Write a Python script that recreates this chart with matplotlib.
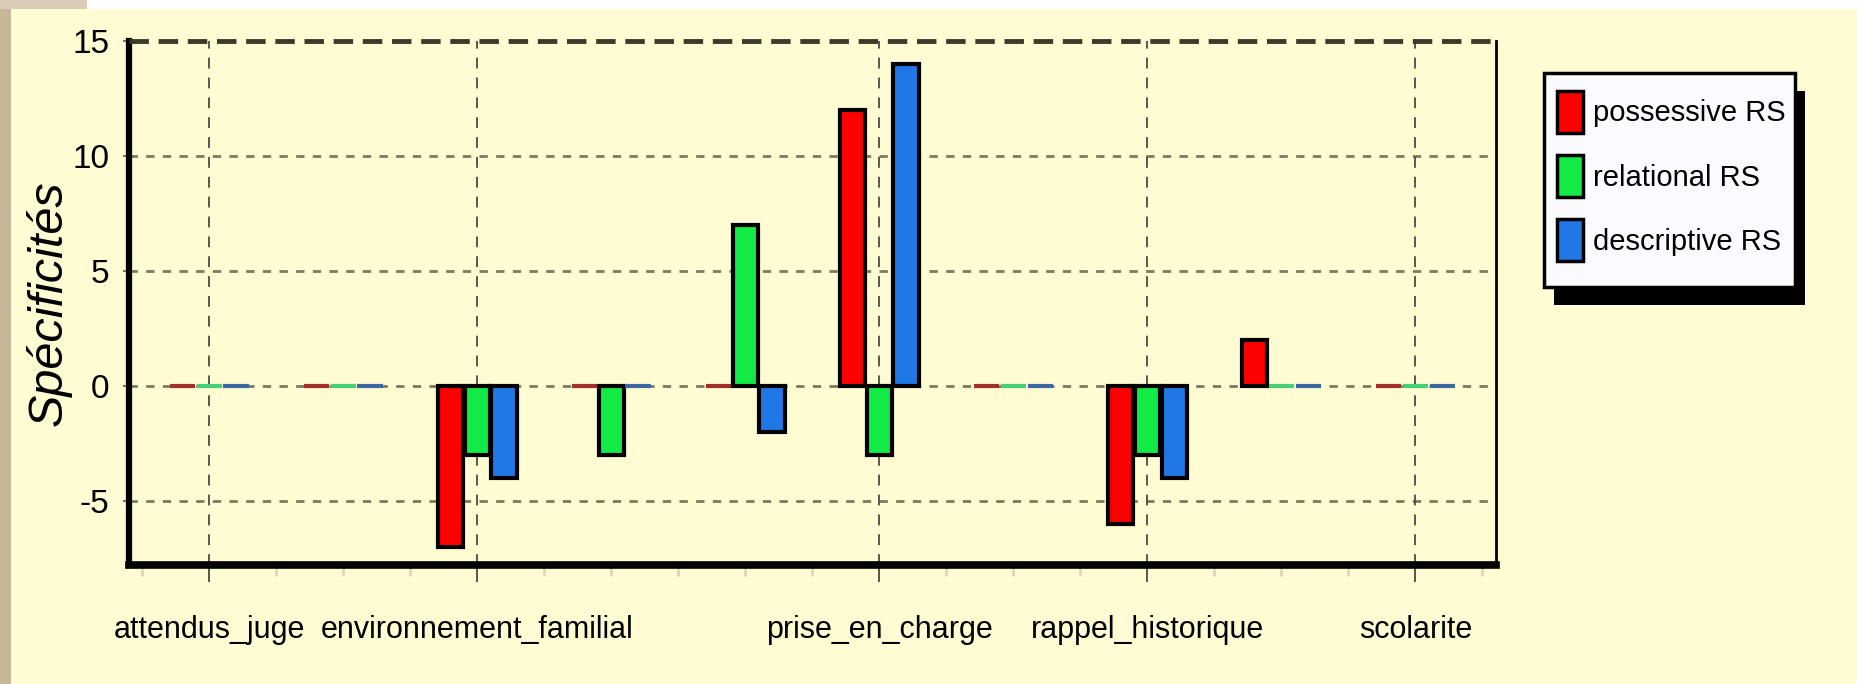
import matplotlib
matplotlib.use("Agg")
import matplotlib.pyplot as plt
from matplotlib.patches import Patch, Rectangle
import numpy as np

# ---------------------------------------------------------------- data
categories = ["attendus_juge", "", "environnement_familial", "", "",
              "prise_en_charge", "", "rappel_historique", "", "scolarite"]
possessive = [0, 0, -7, 0, 0, 12, 0, -6, 2, 0]
relational = [0, 0, -3, -3, 7, -3, 0, -3, 0, 0]
descriptive = [0, 0, -4, 0, -2, 14, 0, -4, 0, 0]
series_names = ["possessive RS", "relational RS", "descriptive RS"]
yticks = [-5, 0, 5, 10, 15]

colors = ["#ff0000", "#12ea45", "#1f78e6"]
zero_colors = ["#a0302a", "#45d075", "#3c6aa0"]
bg = "#fffbd2"
W, H = 1858, 684

plt.rcParams['font.family'] = ['Liberation Sans', 'DejaVu Sans']

fig = plt.figure(figsize=(W / 100, H / 100), dpi=100, facecolor=bg)
ax = fig.add_axes([0.0694, 0.174, 0.7357, 0.766], facecolor=bg)

# slide background bits around the picture
fig.patches.append(Rectangle((0, 0), 0.006, 1, transform=fig.transFigure,
                             facecolor="#c8b69a", edgecolor="none", zorder=0))
fig.patches.append(Rectangle((0.047, 0.987), 0.953, 0.013, transform=fig.transFigure,
                             facecolor="white", edgecolor="none", zorder=0))
fig.patches.append(Rectangle((0, 0.987), 0.047, 0.013, transform=fig.transFigure,
                             facecolor="#d9cdb8", edgecolor="none", zorder=0))

x = np.arange(len(categories))
width = 0.19
offsets = [-0.2, 0.0, 0.2]

for vals, off, col, zcol, name in zip([possessive, relational, descriptive],
                                      offsets, colors, zero_colors, series_names):
    edges = ["black" if v != 0 else zcol for v in vals]
    ax.bar(x + off, vals, width, color=col, edgecolor=edges, linewidth=3,
           zorder=3, label=name)

# grid
for yv in [-5, 0, 5, 10]:
    ax.axhline(yv, color="#7d7a5c", linestyle=(0, (3, 3)), linewidth=2, zorder=1)
ax.axhline(15, color="#3a3a2a", linestyle=(0, (4, 2)), linewidth=3.5, zorder=4, clip_on=False)
labeled = [i for i, c in enumerate(categories) if c]
for i in labeled:
    ax.axvline(i, color="#4a4a40", linestyle=(0, (6, 5)), linewidth=1.3, zorder=1)

ax.set_xlim(-0.6, len(categories) - 0.4)
ax.set_ylim(-7.8, 15)

ax.set_yticks(yticks)
ax.set_yticklabels([str(t) for t in yticks], fontsize=24)
ax.set_xticks(labeled)
ax.set_xticklabels([categories[i] for i in labeled], fontsize=22)
ax.set_xticks(np.arange(-0.5, len(categories), 0.5), minor=True)
ax.tick_params(axis="x", which="major", length=12, width=1.3, color="#4a4a40", pad=24)
ax.tick_params(axis="x", which="minor", length=8, width=2, color="#ddd8b8")
ax.tick_params(axis="y", length=4, width=1.5, color="#7d7a5c", pad=10)

ax.set_ylabel("Spécificités", fontsize=35, style="italic")
ax.yaxis.set_label_coords(-0.042, 0.5)

for side, lw in [("left", 4.5), ("bottom", 5.5), ("right", 2)]:
    ax.spines[side].set_linewidth(lw)
    ax.spines[side].set_color("black")
ax.spines["top"].set_visible(False)

# legend box with black drop shadow
box_x0, box_x1, box_y0, box_y1 = 1544, 1795, 73, 287
fig.patches.append(Rectangle(((box_x0 + 10) / W, 1 - (box_y1 + 18) / H),
                             (box_x1 - box_x0) / W, (box_y1 - box_y0) / H,
                             transform=fig.transFigure, facecolor="black",
                             edgecolor="none", zorder=4))
fig.patches.append(Rectangle((box_x0 / W, 1 - box_y1 / H),
                             (box_x1 - box_x0) / W, (box_y1 - box_y0) / H,
                             transform=fig.transFigure, facecolor="#fbfbff",
                             edgecolor="black", linewidth=2.5, zorder=4))

handles = [Patch(facecolor=c, edgecolor="black", linewidth=2.5) for c in colors]
leg = fig.legend(handles, series_names, loc="upper left",
                 bbox_to_anchor=(1557 / W, 1 - 91 / H), fontsize=21,
                 frameon=False, handlelength=0.9, handleheight=1.85,
                 handletextpad=0.33, labelspacing=0.75, borderpad=0,
                 borderaxespad=0)
leg.set_zorder(6)

fig.savefig("out.png", dpi=100, facecolor=bg)
